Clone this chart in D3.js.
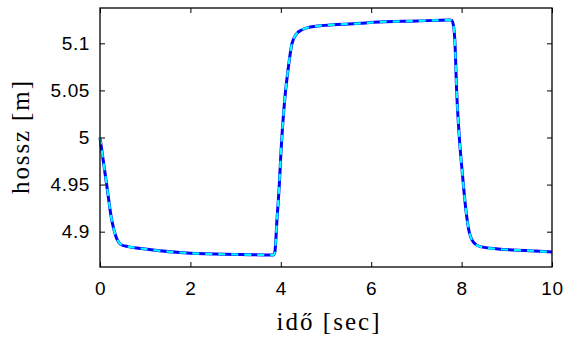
<!DOCTYPE html>
<html>
<head>
<meta charset="utf-8">
<script src="https://cdn.jsdelivr.net/npm/d3@7/dist/d3.min.js"></script>
<style>
    body { margin: 0; background: #fff; }
    .tick text { font-family: "Liberation Sans", Arial, sans-serif; font-size: 19px; letter-spacing: 0.6px; fill: #000; }
    .label { font-family: "Liberation Serif", "DejaVu Serif", serif; font-size: 25px; fill: #000; }
</style>
</head>
<body>
<div id="chart"></div>
<script>
// time [sec] and length [m]
var time_sec = [0, 0.148, 0.259, 0.354, 0.48, 0.626, 1.0, 2.0, 3.0, 3.84, 3.87, 3.916, 3.967, 4.004, 4.027,
    4.1, 4.16, 4.248, 4.358, 4.45, 4.542, 4.874, 5.75, 6.05, 7.0, 7.74, 7.78, 7.82, 7.854, 7.89, 7.95,
    8.02, 8.075, 8.15, 8.26, 8.41, 8.81, 9.5, 10];
var length_sim = [5.0, 4.9496, 4.9124, 4.8947, 4.8859, 4.8841, 4.8816, 4.8771, 4.8758, 4.8752, 4.879, 4.9133, 4.9496, 4.9849, 5.0027,
    5.0469, 5.0717, 5.1, 5.1106, 5.1138, 5.1159, 5.1187, 5.1212, 5.1223, 5.1237, 5.1247, 5.1243, 5.119, 5.1, 5.05, 5.0,
    4.96, 4.932, 4.904, 4.889, 4.8841, 4.8816, 4.8798, 4.8784];
var length_model = length_sim.slice();

var x_ticks = [0, 2, 4, 6, 8, 10],
    y_ticks = [4.9, 4.95, 5, 5.05, 5.1],
    y_tick_labels = ['4.9', '4.95', '5', '5.05', '5.1'];

var margins = {top: 8, right: 12, bottom: 71, left: 100},
    width = 564 - margins.left - margins.right,
    height = 338 - margins.top - margins.bottom;

var svg = d3.select('#chart').append('svg')
    .attr('width', 564)
    .attr('height', 338);

var g = svg.append('g')
    .attr('transform', 'translate(' + margins.left + ',' + margins.top + ')');

var xScale = d3.scaleLinear().domain([0, 10]).range([0, width]);
var yScale = d3.scaleLinear().domain([4.8625, 5.1375]).range([height, 0]);

var xAxis = d3.axisBottom(xScale).tickValues(x_ticks).tickFormat(d3.format('d'))
    .tickSizeInner(-5).tickSizeOuter(0).tickPadding(15);
var yAxis = d3.axisLeft(yScale).tickValues(y_ticks)
    .tickFormat(function(d, i) { return y_tick_labels[i]; })
    .tickSizeInner(-5).tickSizeOuter(0).tickPadding(10);

g.append('g').attr('class', 'x axis')
    .attr('transform', 'translate(0,' + height + ')')
    .call(xAxis);
g.append('g').attr('class', 'y axis').call(yAxis);

// mirrored ticks on top and right
g.append('g').call(d3.axisTop(xScale).tickValues(x_ticks).tickFormat('').tickSizeInner(-5).tickSizeOuter(0));
g.append('g').attr('transform', 'translate(' + width + ',0)')
    .call(d3.axisRight(yScale).tickValues(y_ticks).tickFormat('').tickSizeInner(-5).tickSizeOuter(0));

g.selectAll('.domain').remove();
g.selectAll('.tick line').attr('stroke', '#000').attr('stroke-width', 1);

var line = d3.line()
    .x(function(d) { return xScale(d[0]); })
    .y(function(d) { return yScale(d[1]); })
    .curve(d3.curveMonotoneX);

g.append('path')
    .datum(d3.zip(time_sec, length_sim))
    .attr('d', line)
    .attr('fill', 'none')
    .attr('stroke', '#0000ff')
    .attr('stroke-width', 3);

g.append('path')
    .datum(d3.zip(time_sec, length_model))
    .attr('d', line)
    .attr('fill', 'none')
    .attr('stroke', '#00ffff')
    .attr('stroke-width', 2.2)
    .attr('stroke-dasharray', '7,6');

g.append('rect')
    .attr('width', width)
    .attr('height', height)
    .attr('fill', 'none')
    .attr('stroke', '#000')
    .attr('stroke-width', 1.3);

svg.append('text')
    .attr('class', 'label')
    .attr('text-anchor', 'middle')
    .attr('x', margins.left + width / 2 + 2)
    .attr('y', 330)
    .attr('textLength', 103)
    .attr('lengthAdjust', 'spacing')
    .text('idő [sec]');

svg.append('text')
    .attr('class', 'label')
    .attr('text-anchor', 'middle')
    .attr('transform', 'translate(29,' + (margins.top + height / 2) + ') rotate(-90)')
    .attr('textLength', 113)
    .attr('lengthAdjust', 'spacing')
    .text('hossz [m]');
</script>
</body>
</html>
